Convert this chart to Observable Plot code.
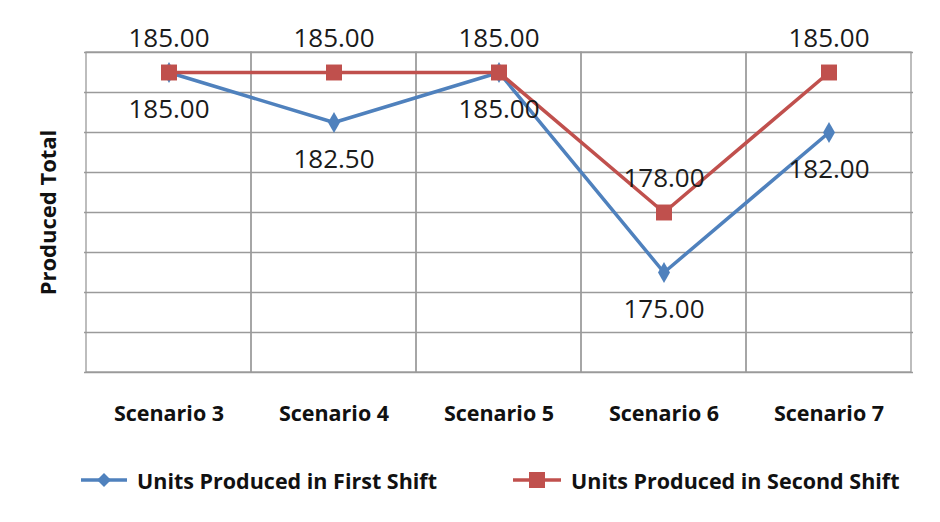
<!DOCTYPE html>
<html>
<head>
<meta charset="utf-8">
<script src="https://cdn.jsdelivr.net/npm/d3@7"></script>
<script src="https://cdn.jsdelivr.net/npm/@observablehq/plot@0.6"></script>
<style>
  html, body { margin: 0; padding: 0; background: #fff; }
  #wrap { width: 940px; font-family: "Open Sans", sans-serif; }
  #legend { position: relative; height: 72px; width: 940px; }
  .item { position: absolute; top: 0; height: 60px; display: flex; align-items: center; font-weight: bold; font-size: 21.5px; color: #111; white-space: nowrap; }
  .item svg { margin-right: 10px; }
</style>
</head>
<body>
<div id="wrap">
  <div id="chart"></div>
  <div id="legend"></div>
</div>
<script>
const categories = ["Scenario 3", "Scenario 4", "Scenario 5", "Scenario 6", "Scenario 7"];
const firstShift = [185, 182.5, 185, 175, 182];
const secondShift = [185, 185, 185, 178, 185];
const seriesNames = ["Units Produced in First Shift", "Units Produced in Second Shift"];
const gridTicks = [170, 172, 174, 176, 178, 180, 182, 184, 186];
const yDomain = [170, 186];

const colors = ["#4F81BD", "#C0504D"];

const first = categories.map((c, i) => ({cat: c, value: firstShift[i], series: seriesNames[0]}));
const second = categories.map((c, i) => ({cat: c, value: secondShift[i], series: seriesNames[1]}));

const chart = Plot.plot({
  width: 940,
  height: 450,
  marginLeft: 84,
  marginRight: 27,
  marginTop: 52,
  marginBottom: 78,
  style: { fontFamily: "Open Sans, sans-serif", background: "#fff" },
  x: { type: "band", domain: categories, padding: 0, label: null },
  y: { domain: yDomain, label: null },
  marks: [
    Plot.ruleY(gridTicks, { stroke: "#9a9a9a", strokeWidth: 1.3 }),
    Plot.barY(categories, { x: d => d, y1: yDomain[0], y2: yDomain[1], fill: "none", stroke: "#9a9a9a", strokeWidth: 1.3 }),
    Plot.axisX({ tickSize: 0, tickPadding: 33, fontSize: 21.5, fontWeight: "bold", fill: "#111", label: null }),
    Plot.axisY({ ticks: [], tickSize: 0, label: "Produced Total", labelArrow: "none", labelAnchor: "center", labelOffset: 44, fontSize: 22, fontWeight: "bold", fill: "#111" }),
    Plot.line(first, { x: "cat", y: "value", stroke: colors[0], strokeWidth: 3.5 }),
    Plot.line(second, { x: "cat", y: "value", stroke: colors[1], strokeWidth: 3.5 }),
    Plot.dot(first, { x: "cat", y: "value", symbol: "diamond", r: 6.3, fill: colors[0], stroke: "none" }),
    Plot.dot(second, { x: "cat", y: "value", symbol: "square", r: 9, fill: colors[1], stroke: "none" }),
    Plot.text(first, { x: "cat", y: "value", text: d => d.value.toFixed(2), dy: 37, fontSize: 26, fill: "#1a1a1a" }),
    Plot.text(second, { x: "cat", y: "value", text: d => d.value.toFixed(2), dy: -34, fontSize: 26, fill: "#1a1a1a" })
  ]
});
document.getElementById("chart").appendChild(chart);

const legend = document.getElementById("legend");
const legendLefts = [81, 513];
const legendSymbols = [
  '<svg width="46" height="20"><line x1="0" y1="10" x2="46" y2="10" stroke="' + colors[0] + '" stroke-width="3.5"/><path d="M23,3 L30,10 L23,17 L16,10 Z" fill="' + colors[0] + '"/></svg>',
  '<svg width="48" height="20"><line x1="0" y1="10" x2="48" y2="10" stroke="' + colors[1] + '" stroke-width="3.5"/><rect x="16" y="2" width="16" height="16" fill="' + colors[1] + '"/></svg>'
];
seriesNames.forEach((name, i) => {
  const div = document.createElement("div");
  div.className = "item";
  div.style.left = legendLefts[i] + "px";
  div.innerHTML = legendSymbols[i] + "<span>" + name + "</span>";
  legend.appendChild(div);
});
</script>
</body>
</html>
